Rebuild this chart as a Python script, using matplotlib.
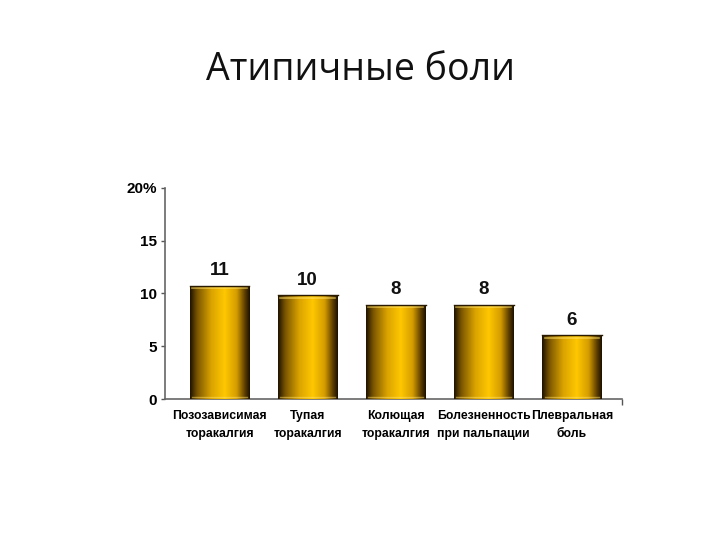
import numpy as np
import matplotlib
matplotlib.use("Agg")
import matplotlib.pyplot as plt
from matplotlib.colors import LinearSegmentedColormap

# data
categories = ["Позозависимая\nторакалгия", "Тупая\nторакалгия", "Колющая\nторакалгия",
              "Болезненность\nпри пальпации", "Плевральная\nболь"]
heights = [10.75, 9.85, 8.95, 8.95, 6.05]
value_labels = ["11", "10", "8", "8", "6"]
yticks = [0, 5, 10, 15, 20]
ytick_labels = ["0", "5", "10", "15", "20%"]

ARIAL = ["Liberation Sans", "DejaVu Sans"]

# cylinder-like shading for the bars
gold = LinearSegmentedColormap.from_list(
    "gold", [(0.0, "#1e1200"), (0.12, "#7a5500"), (0.35, "#d9a200"),
             (0.58, "#ffc800"), (0.78, "#d49c00"), (0.92, "#5a3c00"), (1.0, "#1a1000")])

fig = plt.figure(figsize=(7.2, 5.4), dpi=100)
fig.patch.set_facecolor("white")
fig.text(0.5, 0.870, "Атипичные боли", ha="center", va="center",
         fontsize=27, family=["Open Sans", "DejaVu Sans"], color="#111111")

ax = fig.add_axes([0.229, 0.261, 0.635, 0.391])
x = np.arange(len(categories))
bars = ax.bar(x, heights, width=0.68, color="none", edgecolor="none", zorder=2)

grad = np.linspace(0, 1, 256).reshape(1, -1)
for b, h in zip(bars, heights):
    x0 = b.get_x()
    w = b.get_width()
    im = ax.imshow(grad, cmap=gold, aspect="auto", extent=[x0, x0 + w, 0, h],
                   zorder=3, interpolation="bicubic")
    im.set_clip_path(b)
    # lighter rim at the top and bottom of the cylinder
    ax.plot([x0 + 0.03, x0 + w - 0.03], [h - 0.25, h - 0.25], color="#ffe066",
            lw=1.2, alpha=0.6, zorder=4)
    ax.plot([x0 + 0.03, x0 + w - 0.03], [0.2, 0.2], color="#ffe066",
            lw=1.0, alpha=0.5, zorder=4)
    ax.plot([x0, x0 + w], [h, h], color="#2a1a00", lw=1.0, zorder=4)

for xi, h, lab in zip(x, heights, value_labels):
    ax.text(xi, h + 0.6, lab, ha="center", va="bottom", fontsize=13.5,
            fontweight="bold", family=ARIAL, color="#111111")

ax.set_xlim(-0.62, 4.57)
ax.set_ylim(0, 20)
ax.set_yticks(yticks)
ax.set_yticklabels(ytick_labels, fontsize=11, fontweight="bold", family=ARIAL)
ax.set_xticks(x)
ax.set_xticklabels(categories, fontsize=8.8, fontweight="bold", family=ARIAL,
                   linespacing=1.6)
ax.tick_params(axis="x", length=0, pad=8)
ax.tick_params(axis="y", length=3, width=1, color="#555555", pad=3)
ax.set_xticks([4.57], minor=True)
ax.tick_params(axis="x", which="minor", length=4, width=1, color="#555555")

for s in ["top", "right"]:
    ax.spines[s].set_visible(False)
ax.spines["left"].set_color("#666666")
ax.spines["bottom"].set_color("#666666")
ax.spines["left"].set_linewidth(1.2)
ax.spines["bottom"].set_linewidth(1.2)

fig.savefig("out.png", dpi=100, facecolor="white")
